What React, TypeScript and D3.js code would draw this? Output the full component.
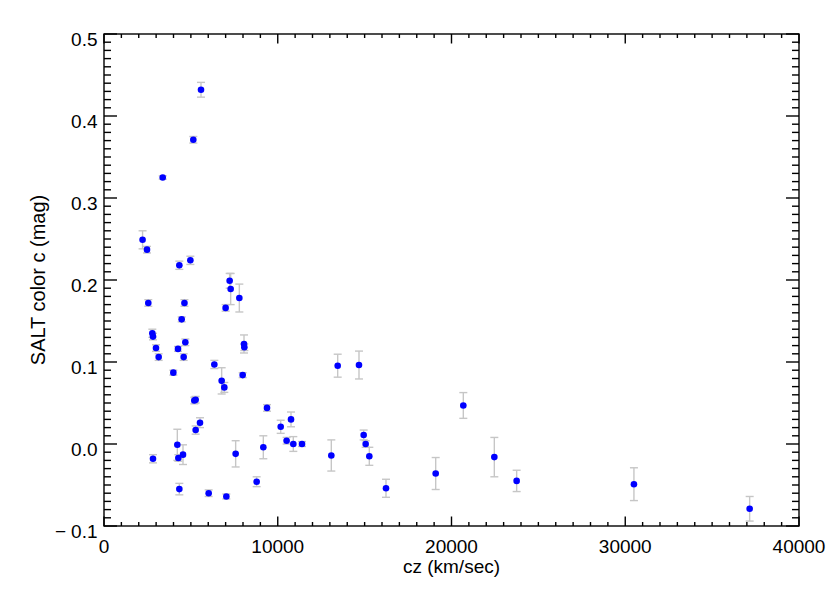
import React from "react";
import * as d3 from "d3";

const czValues = [
  5583, 5140, 3380, 2220, 2475, 2550, 4336, 4970, 7232, 7290, 7789, 7000, 4630, 4470,
  2782, 2820, 2993, 3146, 4259, 4681, 4585, 8058, 8077, 6350, 3990, 7982, 6772, 6925,
  5198, 5275, 9381, 5275, 5525, 10170, 10763, 10510, 10896, 11396, 4220, 4278, 4547,
  2820, 7577, 9170, 4336, 6024, 7041, 8786, 13083, 14945, 15060, 15270, 16230, 13450,
  14676, 20680, 19090, 22465, 23750, 30500, 37160,
];
const cValues = [
  0.432, 0.371, 0.325, 0.249, 0.237, 0.172, 0.218, 0.224, 0.199, 0.189, 0.178, 0.166, 0.172, 0.152,
  0.135, 0.131, 0.117, 0.106, 0.116, 0.124, 0.106, 0.122, 0.118, 0.097, 0.087, 0.084, 0.077, 0.069,
  0.053, 0.054, 0.044, 0.017, 0.026, 0.021, 0.030, 0.004, 0.000, 0.000, -0.001, -0.017, -0.013,
  -0.018, -0.012, -0.004, -0.055, -0.060, -0.064, -0.046, -0.014, 0.011, 0.000, -0.015, -0.054, 0.0955,
  0.0963, 0.047, -0.036, -0.016, -0.045, -0.049, -0.079,
];
const cErrors = [
  0.009, 0.004, 0.002, 0.011, 0.004, 0.004, 0.005, 0.005, 0.009, 0.019, 0.017, 0.004, 0.004, 0.003,
  0.005, 0.004, 0.004, 0.004, 0.003, 0.004, 0.004, 0.011, 0.004, 0.005, 0.003, 0.003, 0.016, 0.006,
  0.004, 0.004, 0.004, 0.005, 0.006, 0.008, 0.009, 0.004, 0.009, 0.003, 0.019, 0.004, 0.012,
  0.005, 0.016, 0.014, 0.007, 0.004, 0.003, 0.006, 0.019, 0.006, 0.004, 0.011, 0.011, 0.014,
  0.017, 0.0157, 0.0195, 0.024, 0.013, 0.020, 0.015,
];

const xMajorTicks = [0, 10000, 20000, 30000, 40000];
const xTickLabels = ["0", "10000", "20000", "30000", "40000"];
const yMajorTicks = [-0.1, 0, 0.1, 0.2, 0.3, 0.4, 0.5];
const yTickLabels = ["\u22120.1", "0.0", "0.1", "0.2", "0.3", "0.4", "0.5"];
const xTitle = "cz (km/sec)";
const yTitle = "SALT color c (mag)";

const W = 830;
const H = 593;
const L = 104, R = 799, T = 34, B = 526;

export default function App() {
  const x = d3.scaleLinear().domain([0, 40000]).range([L, R]);
  const y = d3.scaleLinear().domain([-0.1, 0.5]).range([B, T]);
  const xMinor = d3.range(0, 40001, 1000).filter((v) => v % 10000 !== 0);
  const yMinor = d3.range(-100, 501, 10).filter((v) => v % 100 !== 0).map((v) => v / 1000);
  const font = "'Liberation Sans', Arial, Helvetica, sans-serif";
  const errColor = "#c6c6c6";
  return (
    <svg width={W} height={H} style={{ position: "fixed", left: 0, top: 0, background: "#fff" }}>
      <rect x={0} y={0} width={W} height={H} fill="#fff" />
      {/* error bars */}
      <g stroke={errColor} strokeWidth={1.4} fill="none">
        {czValues.map((cz, i) => {
          const cx = x(cz);
          const y1 = y(cValues[i] + cErrors[i]);
          const y2 = y(cValues[i] - cErrors[i]);
          return (
            <g key={i}>
              <line x1={cx} x2={cx} y1={y1} y2={y2} />
              <line x1={cx - 4} x2={cx + 4} y1={y1} y2={y1} />
              <line x1={cx - 4} x2={cx + 4} y1={y2} y2={y2} />
            </g>
          );
        })}
      </g>
      {/* points */}
      <g fill="#0000ff">
        {czValues.map((cz, i) => (
          <circle key={i} cx={x(cz)} cy={y(cValues[i])} r={3.3} />
        ))}
      </g>
      {/* axes frame */}
      <g stroke="#000" strokeWidth={1.4} fill="none">
        <rect x={L} y={T} width={R - L} height={B - T} />
        {xMajorTicks.map((v) => (
          <g key={"xm" + v}>
            <line x1={x(v)} x2={x(v)} y1={B} y2={B - 9.5} />
            <line x1={x(v)} x2={x(v)} y1={T} y2={T + 9.5} />
          </g>
        ))}
        {xMinor.map((v) => (
          <g key={"xn" + v}>
            <line x1={x(v)} x2={x(v)} y1={B} y2={B - 4} />
            <line x1={x(v)} x2={x(v)} y1={T} y2={T + 4} />
          </g>
        ))}
        {yMajorTicks.map((v) => (
          <g key={"ym" + v}>
            <line x1={L} x2={L + 13} y1={y(v)} y2={y(v)} />
            <line x1={R} x2={R - 13} y1={y(v)} y2={y(v)} />
          </g>
        ))}
        {yMinor.map((v) => (
          <g key={"yn" + v}>
            <line x1={L} x2={L + 7} y1={y(v)} y2={y(v)} />
            <line x1={R} x2={R - 7} y1={y(v)} y2={y(v)} />
          </g>
        ))}
      </g>
      {/* tick labels */}
      <g fontFamily={font} fontSize={19} fill="#000">
        {xMajorTicks.map((v, i) => (
          <text key={"xl" + v} x={x(v)} y={B + 26.5} textAnchor="middle">
            {xTickLabels[i]}
          </text>
        ))}
        {yMajorTicks.map((v, i) => {
          const lab = yTickLabels[i];
          const neg = lab.startsWith("\u2212");
          return (
            <text key={"yl" + v} x={L - 6.5} y={y(v) + 11.5} textAnchor="end">
              {neg ? (
                <>
                  <tspan>{"\u2212"}</tspan>
                  <tspan dx={5}>{lab.slice(1)}</tspan>
                </>
              ) : (
                lab
              )}
            </text>
          );
        })}
      </g>
      <text x={(L + R) / 2} y={573.3} textAnchor="middle" fontFamily={font} fontSize={19}>
        {xTitle}
      </text>
      <text
        transform={`translate(44.5, ${(T + B) / 2}) rotate(-90)`}
        textAnchor="middle"
        fontFamily={font}
        fontSize={20}
      >
        {yTitle}
      </text>
    </svg>
  );
}
